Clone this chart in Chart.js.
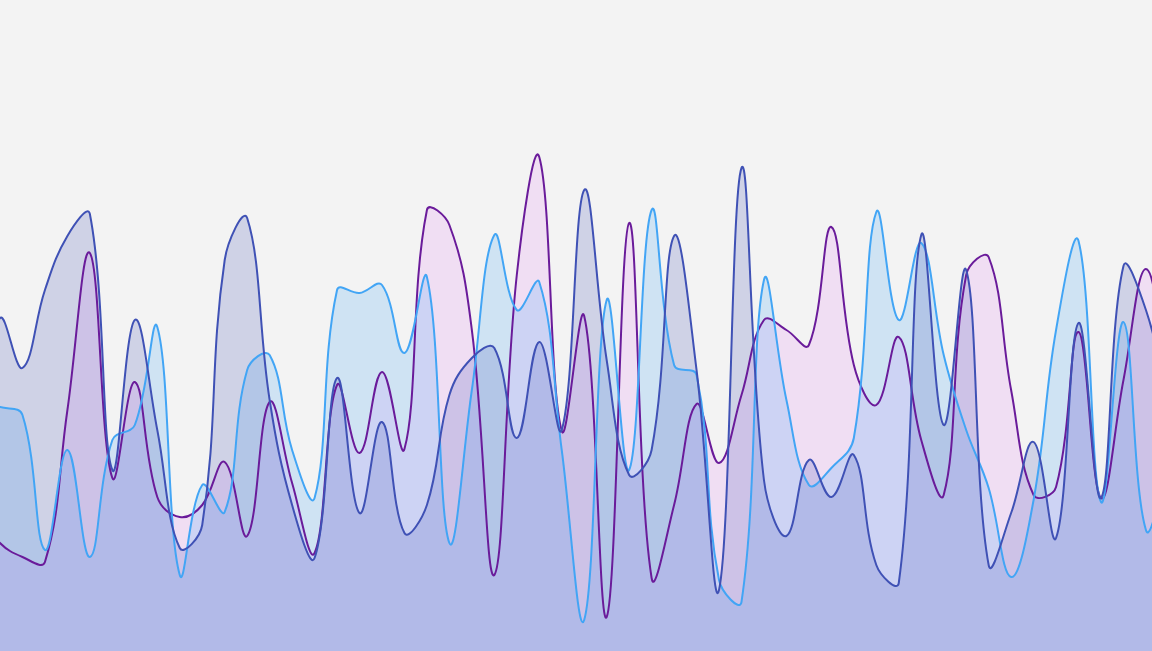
<!DOCTYPE html>
<html>
<head>
<meta charset="utf-8">
<script src="https://cdn.jsdelivr.net/npm/chart.js@4/dist/chart.umd.min.js"></script>
<style>
  html, body { margin: 0; padding: 0; background: #f3f3f3; }
  #wrap { width: 1152px; height: 651px; position: relative; }
</style>
</head>
<body>
<div id="wrap"><canvas id="ondas"></canvas></div>
<script>
// indices dos pontos (o primeiro e o ultimo ficam fora da area visivel)
const indices = [-1,0,1,2,3,4,5,6,7,8,9,10,11,12,13,14,15,16,17,18,19,20,21,22,23,24,25,
  26,27,28,29,30,31,32,33,34,35,36,37,38,39,40,41,42,43,44,45,46,47,48,49,50,51,52];

// series (altura a partir da base)
const serieIndigo = [230,333,283,361,415,437,181,331,221,103,126,391,433,251,146,93,273,138,229,118,146,
  256,293,303,213,309,221,461,291,176,201,415,281,61,483,171,115,191,154,196,86,68,416,226,381,86,138,
  209,113,328,153,385,341,251];
const serieAzul = [250,244,236,101,201,94,211,226,324,76,166,139,281,296,201,153,361,358,366,298,374,
  108,261,416,341,369,201,31,351,181,441,286,276,71,49,371,251,166,183,213,439,331,408,296,221,163,74,
  151,321,410,149,329,121,181];
const serieRoxo = [140,108,94,89,241,398,173,269,154,134,146,189,115,249,168,98,266,198,279,202,441,
  426,321,76,376,494,220,335,34,428,73,146,247,188,256,331,321,306,424,286,246,314,211,156,376,394,261,
  156,164,319,153,271,382,271];

const cores = {
  indigo: '#3f51b5',
  azul: '#42a5f5',
  roxo: '#6a1b9a'
};

function dataset(dados, cor, fundo){
  return {
    data: dados,
    borderColor: cor,
    backgroundColor: fundo,
    borderWidth: 2,
    fill: 'origin',
    tension: 0.4,
    pointRadius: 0,
    pointHoverRadius: 0
  };
}

new Chart(document.getElementById('ondas'), {
  type: 'line',
  data: {
    labels: indices,
    datasets: [
      dataset(serieIndigo, cores.indigo, 'rgba(63,81,181,0.2)'),
      dataset(serieAzul, cores.azul, 'rgba(66,165,245,0.2)'),
      dataset(serieRoxo, cores.roxo, 'rgba(230,140,245,0.2)')
    ]
  },
  options: {
    responsive: true,
    maintainAspectRatio: false,
    animation: false,
    devicePixelRatio: 1,
    layout: { padding: 0 },
    elements: { line: { capBezierPoints: false } },
    plugins: {
      legend: { display: false },
      tooltip: { enabled: false },
      filler: { drawTime: 'beforeDatasetsDraw' }
    },
    scales: {
      x: { type: 'linear', display: false, min: 0, max: 51.27 },
      y: { display: false, min: 0, max: 651 }
    }
  }
});
</script>
</body>
</html>
